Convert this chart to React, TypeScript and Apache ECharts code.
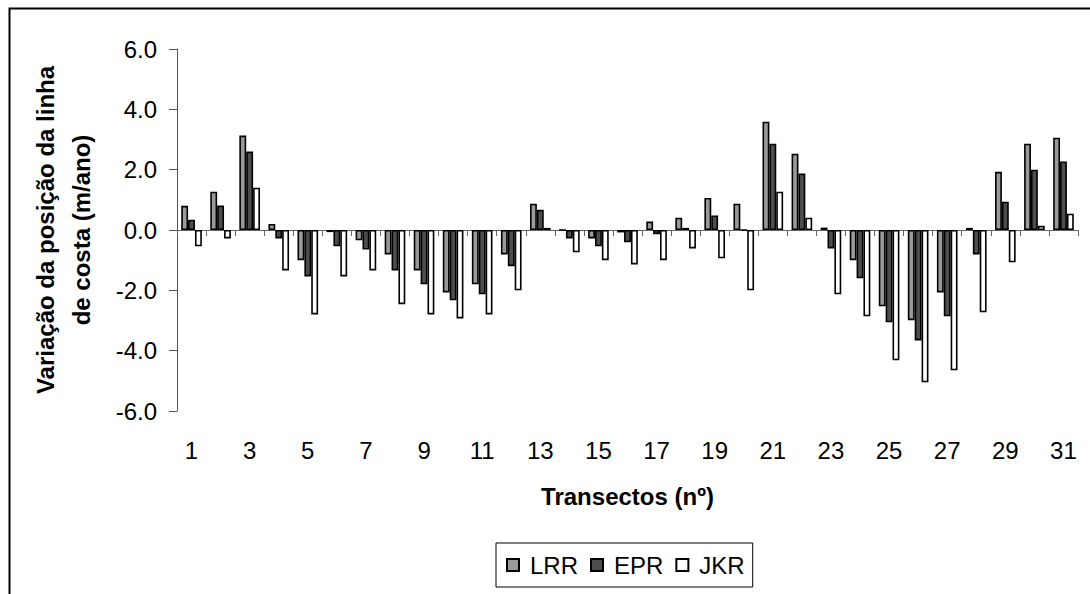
import React, { useEffect, useRef } from "react";
import * as echarts from "echarts";

const categories = Array.from({ length: 31 }, (_, i) => String(i + 1));
const lrr = [0.8, 1.27, 3.13, 0.2, -1.0, -0.07, -0.34, -0.81, -1.34, -2.07, -1.8, -0.81, 0.87, 0, -0.28, -0.08, 0.28, 0.41, 1.06, 0.87, 3.59, 2.53, 0.08, -1.0, -2.53, -2.99, -2.07, 0.07, 1.93, 2.86, 3.06];
const epr = [0.34, 0.81, 2.6, -0.28, -1.54, -0.54, -0.65, -1.34, -1.8, -2.33, -2.13, -1.2, 0.67, -0.28, -0.54, -0.41, -0.14, 0.07, 0.48, 0, 2.86, 1.87, -0.61, -1.6, -3.06, -3.66, -2.86, -0.81, 0.94, 2.0, 2.27];
const jkr = [-0.54, -0.28, 1.4, -1.34, -2.8, -1.54, -1.34, -2.46, -2.8, -2.93, -2.8, -2.0, 0.07, -0.74, -1.0, -1.14, -1.0, -0.61, -0.94, -2.0, 1.27, 0.41, -2.13, -2.86, -4.32, -5.05, -4.65, -2.73, -1.07, 0.14, 0.54];
const yTicks = { min: -6, max: 6, interval: 2 };

const FONT = "'Liberation Sans', Arial, Helvetica, sans-serif";

export default function App() {
  const ref = useRef<HTMLDivElement>(null);
  useEffect(() => {
    if (!ref.current) return;
    const chart = echarts.init(ref.current, undefined, { renderer: "svg" });
    const bar = (name: string, data: number[], color: string) => ({
      name,
      type: "bar",
      xAxisIndex: 0,
      data,
      barGap: "0%",
      barCategoryGap: "29%",
      itemStyle: { color, borderColor: "#000", borderWidth: 1.6 },
    });
    chart.setOption({
      animation: false,
      textStyle: { fontFamily: FONT },
      grid: { left: 177, right: 12, top: 49, bottom: 183 },
      graphic: [
        {
          type: "rect",
          left: 7,
          top: 6,
          shape: { x: 0, y: 0, width: 1200, height: 700 },
          style: { fill: "none", stroke: "#000", lineWidth: 2 },
          silent: true,
        },
      ],
      legend: {
        left: 496,
        top: 543,
        orient: "horizontal",
        borderColor: "#000",
        borderWidth: 1,
        padding: [10, 8, 10, 10],
        itemWidth: 12,
        itemHeight: 12,
        itemGap: 12,
        icon: "rect",
        textStyle: { fontSize: 24, color: "#000", fontFamily: FONT, padding: [0, 0, 0, 6] },
        data: ["LRR", "EPR", "JKR"],
      },
      xAxis: [
        {
          type: "category",
          data: categories,
          boundaryGap: true,
          axisLine: { onZero: true, lineStyle: { color: "#666", width: 1 } },
          axisTick: { show: true, interval: 0, length: 6, inside: false, lineStyle: { color: "#666" } },
          axisLabel: { show: false },
          splitLine: { show: false },
        },
        {
          type: "category",
          data: categories,
          position: "bottom",
          boundaryGap: true,
          axisLine: { show: false, onZero: false },
          axisTick: { show: false },
          axisLabel: { interval: 1, fontSize: 24, color: "#000", margin: 27, fontFamily: FONT },
          name: "Transectos (nº)",
          nameLocation: "middle",
          nameGap: 73,
          nameTextStyle: { fontSize: 24, fontWeight: "bold", color: "#000", fontFamily: FONT, verticalAlign: "top" },
        },
      ],
      yAxis: {
        type: "value",
        min: yTicks.min,
        max: yTicks.max,
        interval: yTicks.interval,
        axisLine: { show: true, lineStyle: { color: "#555", width: 1 } },
        axisTick: { show: true, length: 8, inside: false, lineStyle: { color: "#555" } },
        splitLine: { show: false },
        axisLabel: {
          fontSize: 24,
          color: "#000",
          margin: 20,
          fontFamily: FONT,
          formatter: (v: number) => v.toFixed(1),
        },
        name: "Variação da posição da linha\nde costa (m/ano)",
        nameLocation: "middle",
        nameGap: 78,
        nameTextStyle: { fontSize: 24, fontWeight: "bold", color: "#000", fontFamily: FONT, lineHeight: 36 },
      },
      series: [bar("LRR", lrr, "#999999"), bar("EPR", epr, "#4d4d4d"), bar("JKR", jkr, "#ffffff")],
    });
    return () => chart.dispose();
  }, []);
  return (
    <div
      ref={ref}
      style={{ position: "absolute", left: 0, top: 0, width: 1090, height: 594, background: "#fff" }}
    />
  );
}
